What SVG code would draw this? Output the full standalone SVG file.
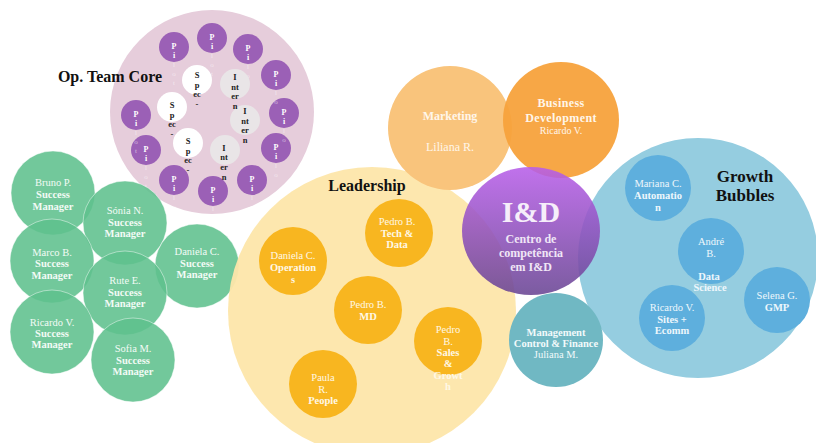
<svg xmlns="http://www.w3.org/2000/svg" width="816" height="443" viewBox="0 0 816 443">
  <defs>
    <linearGradient id="idGrad" x1="0" y1="0" x2="0" y2="1">
      <stop offset="0" stop-color="#b85ee9"/>
      <stop offset="1" stop-color="#694593"/>
    </linearGradient>
    <style>
      text { font-family: "Liberation Serif", "Times New Roman", serif; text-anchor: middle; }
      .b { font-weight: bold; }
      .title { font-size: 16px; font-weight: bold; fill: #111; }
      .pilot { fill: #9b60b6; }
      .spec { fill: #ffffff; }
      .intern { fill: #e9e5e7; }
      .pilotTxt { font-size: 8px; font-weight: bold; fill: #ffffff; }
      .pilotFaint { font-size: 7px; fill: #ffffff; opacity: 0.55; }
      .darkTxt { font-size: 8.5px; font-weight: bold; fill: #222; }
      .green { fill: #5fc08d; fill-opacity: 0.88; stroke: #ffffff; stroke-opacity: 0.45; stroke-width: 1; }
      .greenTxt { font-size: 10.5px; fill: #f3fbf6; }
      .yellow { fill: #f8b620; }
      .yellowTxt { font-size: 10.5px; fill: #fff8e6; }
      .blue { fill: #5eafdd; }
      .blueTxt { font-size: 10.5px; fill: #eef7fc; }
    </style>
  </defs>

  <!-- Operational team core -->
  <g id="op-team-core">
    <circle cx="212" cy="112" r="102" fill="#e6cddb"/>
    <text x="110" y="82" class="title">Op. Team Core</text>
    <g id="pilots">
      <circle class="pilot" cx="174" cy="47" r="15"/>
      <circle class="pilot" cx="212" cy="38" r="15"/>
      <circle class="pilot" cx="248" cy="49" r="15"/>
      <circle class="pilot" cx="276" cy="75" r="15"/>
      <circle class="pilot" cx="284" cy="113" r="15"/>
      <circle class="pilot" cx="276" cy="148" r="15"/>
      <circle class="pilot" cx="252" cy="180" r="15"/>
      <circle class="pilot" cx="213" cy="191" r="15"/>
      <circle class="pilot" cx="174" cy="180" r="15"/>
      <circle class="pilot" cx="146" cy="150" r="15"/>
      <circle class="pilot" cx="136" cy="115" r="15"/>
      <g class="pilotTxt">
        <text x="174" y="49">P</text><text x="174" y="58">i</text>
        <text x="212" y="40">P</text><text x="212" y="49">i</text>
        <text x="248" y="51">P</text><text x="248" y="60">i</text>
        <text x="276" y="77">P</text><text x="276" y="86">i</text>
        <text x="284" y="115">P</text><text x="284" y="124">i</text>
        <text x="276" y="150">P</text><text x="276" y="159">i</text>
        <text x="252" y="182">P</text><text x="252" y="191">i</text>
        <text x="213" y="193">P</text><text x="213" y="202">i</text>
        <text x="174" y="182">P</text><text x="174" y="191">i</text>
        <text x="146" y="152">P</text><text x="146" y="161">i</text>
        <text x="136" y="117">P</text><text x="136" y="126">i</text>
      </g>
      <g class="pilotFaint">
        <text x="174" y="67">l</text><text x="174" y="76">o</text><text x="174" y="85">t</text>
        <text x="212" y="58">l</text><text x="212" y="67">o</text><text x="212" y="76">t</text>
        <text x="248" y="69">l</text><text x="248" y="78">o</text><text x="248" y="87">t</text>
        <text x="276" y="95">l</text><text x="276" y="104">o</text>
        <text x="284" y="133">l</text><text x="284" y="142">o</text>
        <text x="276" y="168">l</text><text x="276" y="177">o</text>
        <text x="252" y="200">l</text><text x="252" y="209">o</text>
        <text x="213" y="211">l</text>
        <text x="174" y="200">l</text><text x="174" y="209">o</text>
        <text x="146" y="170">l</text><text x="146" y="179">o</text><text x="146" y="188">t</text>
        <text x="136" y="135">l</text><text x="136" y="144">o</text><text x="136" y="153">t</text>
      </g>
    </g>
    <g id="specialists">
      <circle class="spec" cx="197" cy="80" r="15"/>
      <circle class="spec" cx="172" cy="107" r="15"/>
      <circle class="spec" cx="188" cy="143" r="15"/>
      <g class="darkTxt">
        <text x="197" y="78">S</text><text x="197" y="88">p</text><text x="197" y="97">ec</text><text x="197" y="107">-</text>
        <text x="172" y="108">S</text><text x="172" y="118">p</text><text x="172" y="127">ec</text><text x="172" y="137">-</text>
        <text x="188" y="144">S</text><text x="188" y="154">p</text><text x="188" y="163">ec</text><text x="188" y="173">-</text>
      </g>
    </g>
    <g id="interns">
      <circle class="intern" cx="235" cy="84" r="15"/>
      <circle class="intern" cx="245" cy="120" r="15"/>
      <circle class="intern" cx="225" cy="150" r="15"/>
      <g class="darkTxt">
        <text x="235" y="80">I</text><text x="235" y="90">nt</text><text x="235" y="99">er</text><text x="235" y="109">n</text>
        <text x="245" y="114">I</text><text x="245" y="124">nt</text><text x="245" y="133">er</text><text x="245" y="143">n</text>
        <text x="224" y="151">I</text><text x="224" y="160">nt</text><text x="224" y="170">er</text><text x="224" y="180">n</text>
      </g>
    </g>
  </g>

  <!-- Success managers -->
  <g id="success-managers">
    <g id="sm-bruno">
      <circle class="green" cx="53" cy="193" r="42"/>
      <text class="greenTxt" x="53" y="186">Bruno  P.</text>
      <text class="greenTxt b" x="53" y="198">Success</text>
      <text class="greenTxt b" x="53" y="210">Manager</text>
    </g>
    <g id="sm-sonia">
      <circle class="green" cx="125" cy="223" r="42"/>
      <text class="greenTxt" x="125" y="214">Sónia N.</text>
      <text class="greenTxt b" x="125" y="226">Success</text>
      <text class="greenTxt b" x="125" y="237">Manager</text>
    </g>
    <g id="sm-marco">
      <circle class="green" cx="52" cy="261" r="42"/>
      <text class="greenTxt" x="52" y="256">Marco B.</text>
      <text class="greenTxt b" x="52" y="267">Success</text>
      <text class="greenTxt b" x="52" y="279">Manager</text>
    </g>
    <g id="sm-daniela">
      <circle class="green" cx="197" cy="266" r="42"/>
      <text class="greenTxt" x="197" y="255">Daniela C.</text>
      <text class="greenTxt b" x="197" y="267">Success</text>
      <text class="greenTxt b" x="197" y="278">Manager</text>
    </g>
    <g id="sm-rute">
      <circle class="green" cx="125" cy="293" r="42"/>
      <text class="greenTxt" x="125" y="284">Rute E.</text>
      <text class="greenTxt b" x="125" y="296">Success</text>
      <text class="greenTxt b" x="125" y="307">Manager</text>
    </g>
    <g id="sm-ricardo">
      <circle class="green" cx="52" cy="332" r="42"/>
      <text class="greenTxt" x="52" y="326">Ricardo V.</text>
      <text class="greenTxt b" x="52" y="337">Success</text>
      <text class="greenTxt b" x="52" y="348">Manager</text>
    </g>
    <g id="sm-sofia">
      <circle class="green" cx="133" cy="360" r="42"/>
      <text class="greenTxt" x="133" y="352">Sofia M.</text>
      <text class="greenTxt b" x="133" y="364">Success</text>
      <text class="greenTxt b" x="133" y="375">Manager</text>
    </g>
  </g>

  <!-- Leadership -->
  <g id="leadership">
    <circle cx="372" cy="311" r="144" fill="#fde6aa" fill-opacity="0.95"/>
    <text x="367" y="191" class="title">Leadership</text>
    <g id="lead-tech">
      <circle class="yellow" cx="399" cy="233" r="34"/>
      <text class="yellowTxt" x="397" y="225">Pedro B.</text>
      <text class="yellowTxt b" x="397" y="237">Tech &amp;</text>
      <text class="yellowTxt b" x="397" y="248">Data</text>
    </g>
    <g id="lead-operations">
      <circle class="yellow" cx="293" cy="261" r="34"/>
      <text class="yellowTxt" x="293" y="259">Daniela C.</text>
      <text class="yellowTxt b" x="293" y="271">Operation</text>
      <text class="yellowTxt b" x="293" y="283">s</text>
    </g>
    <g id="lead-md">
      <circle class="yellow" cx="368" cy="310" r="34"/>
      <text class="yellowTxt" x="368" y="308">Pedro B.</text>
      <text class="yellowTxt b" x="368" y="320">MD</text>
    </g>
    <g id="lead-sales">
      <circle class="yellow" cx="448" cy="341" r="34"/>
      <text class="yellowTxt" x="448" y="333">Pedro</text>
      <text class="yellowTxt" x="448" y="345">B.</text>
      <text class="yellowTxt b" x="448" y="356">Sales</text>
      <text class="yellowTxt b" x="448" y="367">&amp;</text>
      <text class="yellowTxt b" x="448" y="379">Growt</text>
      <text class="yellowTxt b" x="448" y="390">h</text>
    </g>
    <g id="lead-people">
      <circle class="yellow" cx="323" cy="384" r="34"/>
      <text class="yellowTxt" x="323" y="381">Paula</text>
      <text class="yellowTxt" x="323" y="393">R.</text>
      <text class="yellowTxt b" x="323" y="404">People</text>
    </g>
  </g>

  <!-- Marketing -->
  <g id="marketing">
    <circle cx="450" cy="128" r="62" fill="#f9c47c"/>
    <text x="450" y="120" font-size="12" class="b" fill="#fff6ea">Marketing</text>
    <text x="450" y="151" font-size="12" fill="#fff6ea">Liliana R.</text>
  </g>

  <!-- Business development -->
  <g id="business-development">
    <circle cx="561" cy="120" r="58" fill="#f7a23c" fill-opacity="0.95"/>
    <text x="561" y="107" font-size="12" class="b" fill="#fff6ea" letter-spacing="0.4">Business</text>
    <text x="561" y="122" font-size="12" class="b" fill="#fff6ea" letter-spacing="0.4">Development</text>
    <text x="561" y="134" font-size="10" fill="#fff6ea">Ricardo V.</text>
  </g>

  <!-- Growth bubbles -->
  <g id="growth-bubbles">
    <circle cx="698" cy="258" r="120" fill="#95cde0"/>
    <text x="745" y="182" font-size="17" class="b" fill="#111">Growth</text>
    <text x="745" y="201" font-size="17" class="b" fill="#111">Bubbles</text>
    <g id="gb-automation">
      <circle class="blue" cx="658" cy="188" r="33"/>
      <text class="blueTxt" x="658" y="187">Mariana C.</text>
      <text class="blueTxt b" x="658" y="199">Automatio</text>
      <text class="blueTxt b" x="658" y="211">n</text>
    </g>
    <g id="gb-data-science">
      <circle class="blue" cx="711" cy="251" r="33"/>
      <text class="blueTxt" x="711" y="245">André</text>
      <text class="blueTxt" x="711" y="257">B.</text>
      <text class="blueTxt b" x="709" y="280">Data</text>
      <text class="blueTxt b" x="710" y="291">Science</text>
    </g>
    <g id="gb-sites">
      <circle class="blue" cx="672" cy="318" r="33"/>
      <text class="blueTxt" x="672" y="311">Ricardo V.</text>
      <text class="blueTxt b" x="672" y="323">Sites +</text>
      <text class="blueTxt b" x="672" y="334">Ecomm</text>
    </g>
    <g id="gb-gmp">
      <circle class="blue" cx="777" cy="300" r="33"/>
      <text class="blueTxt" x="777" y="299">Selena G.</text>
      <text class="blueTxt b" x="777" y="311">GMP</text>
    </g>
  </g>

  <!-- Management control & finance -->
  <g id="management-control">
    <circle cx="556" cy="340" r="47" fill="#70b8c3"/>
    <text x="556" y="336" font-size="10.5" class="b" fill="#f2fafb">Management</text>
    <text x="556" y="347" font-size="10.5" class="b" fill="#f2fafb">Control &amp; Finance</text>
    <text x="556" y="358" font-size="10.5" fill="#f2fafb">Juliana M.</text>
  </g>

  <!-- I&D competence centre -->
  <g id="i-and-d">
    <ellipse cx="531" cy="231" rx="69" ry="64" fill="url(#idGrad)" fill-opacity="0.88"/>
    <text x="531" y="222" font-size="30" class="b" fill="#f6eefa">I&amp;D</text>
    <text x="531" y="243" font-size="12" class="b" fill="#f0e6f6">Centro de</text>
    <text x="531" y="257" font-size="12" class="b" fill="#f0e6f6">competência</text>
    <text x="531" y="271" font-size="12" class="b" fill="#f0e6f6">em I&amp;D</text>
  </g>

  <g id="connectors"/>
</svg>
